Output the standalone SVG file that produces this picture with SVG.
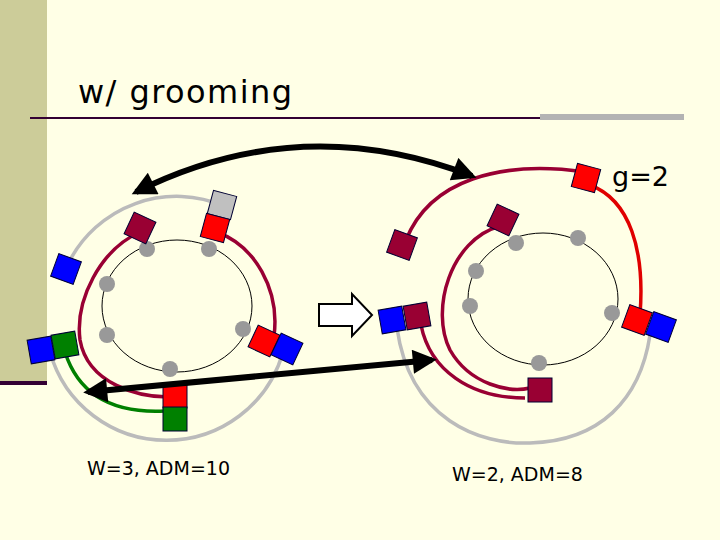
<svg xmlns="http://www.w3.org/2000/svg" width="720" height="540" viewBox="0 0 720 540">
<defs>
<style>
.sq{stroke:#000033;stroke-width:1}
.b{fill:#0000FF}.r{fill:#FF0000}.d{fill:#990033}.g{fill:#008000}.gr{fill:#C0C0C0}
.dot{fill:#999999}
.ar{fill:none;stroke-width:3.5}
.txt{font-family:"DejaVu Sans",sans-serif;fill:#000}
</style>
<marker id="ah" viewBox="0 0 10 10" refX="8" refY="5" markerWidth="4.5" markerHeight="4" orient="auto-start-reverse"><path d="M0,0 L10,5 L0,10 z" fill="#000"/></marker>
</defs>
<rect width="720" height="540" fill="#FFFFE6"/>
<rect x="0" y="0" width="47" height="384" fill="#CCCC99"/>
<rect x="0" y="381" width="47" height="4" fill="#330033"/>
<rect x="30" y="117" width="512" height="2" fill="#330033"/>
<rect x="540" y="114" width="144" height="6" fill="#B3B3B3"/>
<text x="78" y="103" class="txt" font-size="32" textLength="214">w/ grooming</text>

<g id="left-ring">
<ellipse cx="177" cy="306" rx="75" ry="66" fill="none" stroke="#000" stroke-width="1"/>
<g class="dot"><circle cx="147" cy="249" r="8"/><circle cx="209" cy="249" r="8"/><circle cx="107" cy="284" r="8"/><circle cx="107" cy="335" r="8"/><circle cx="243" cy="329" r="8"/><circle cx="170" cy="369" r="8"/></g>
<path class="ar" stroke="#BBBBBB" d="M69 262 A121 121 0 0 1 224 206"/>
<path class="ar" stroke="#BBBBBB" d="M50 352 A121 121 0 0 0 283 352"/>
<path class="ar" stroke="#990033" d="M140 232 C100 250 75 300 80 340 C88 385 140 397 168 397"/>
<path class="ar" stroke="#990033" d="M216 232 C255 245 280 290 274 336"/>
<path class="ar" stroke="#008000" d="M65 352 Q85 415 165 411"/>
<rect class="sq d" x="128" y="216" width="24" height="24" transform="rotate(25 140 228)"/>
<rect class="sq gr" x="210" y="193" width="24" height="24" transform="rotate(15 222 205)"/>
<rect class="sq r" x="203" y="216" width="24" height="24" transform="rotate(15 215 228)"/>
<rect class="sq b" x="54" y="257" width="24" height="24" transform="rotate(20 66 269)"/>
<rect class="sq b" x="29" y="338" width="24" height="24" transform="rotate(-10 41 350)"/>
<rect class="sq g" x="53" y="333" width="24" height="24" transform="rotate(-10 65 345)"/>
<rect class="sq r" x="252" y="329" width="24" height="24" transform="rotate(25 264 341)"/>
<rect class="sq b" x="275" y="337" width="24" height="24" transform="rotate(25 287 349)"/>
<rect class="sq r" x="163" y="385" width="24" height="23"/>
<rect class="sq g" x="163" y="407" width="24" height="24"/>
</g>

<g id="right-ring">
<ellipse cx="543" cy="299" rx="75" ry="66" fill="none" stroke="#000" stroke-width="1"/>
<g class="dot"><circle cx="516" cy="243" r="8"/><circle cx="578" cy="238" r="8"/><circle cx="476" cy="271" r="8"/><circle cx="470" cy="306" r="8"/><circle cx="612" cy="313" r="8"/><circle cx="539" cy="363" r="8"/></g>
<path class="ar" stroke="#BBBBBB" d="M397 328 C410 420 480 445 530 443 C600 441 640 400 650 335"/>
<path class="ar" stroke="#990033" d="M406 240 C430 180 500 160 585 172"/>
<path class="ar" stroke="#E00000" d="M590 185 C630 200 645 250 640 315"/>
<path class="ar" stroke="#990033" d="M500 226 C450 240 430 310 450 350 C470 385 510 393 530 388"/>
<path class="ar" stroke="#990033" d="M421 325 C430 370 470 398 525 398"/>
<rect class="sq r" x="574" y="166" width="24" height="24" transform="rotate(15 586 178)"/>
<rect class="sq d" x="390" y="233" width="24" height="24" transform="rotate(20 402 245)"/>
<rect class="sq d" x="491" y="208" width="24" height="24" transform="rotate(25 503 220)"/>
<rect class="sq b" x="380" y="308" width="24" height="24" transform="rotate(-10 392 320)"/>
<rect class="sq d" x="405" y="304" width="24" height="24" transform="rotate(-10 417 316)"/>
<rect class="sq r" x="625" y="308" width="24" height="24" transform="rotate(20 637 320)"/>
<rect class="sq b" x="649" y="315" width="24" height="24" transform="rotate(20 661 327)"/>
<rect class="sq d" x="528" y="378" width="24" height="24"/>
</g>

<g id="connectors">
<path d="M136 192 Q300 110 472 176" fill="none" stroke="#000" stroke-width="6" marker-start="url(#ah)" marker-end="url(#ah)"/>
<path d="M88 392 L432 360" fill="none" stroke="#000" stroke-width="6" marker-start="url(#ah)" marker-end="url(#ah)"/>
<path d="M319 304 L352 304 L352 294 L372 315 L352 336 L352 326 L319 326 Z" fill="#fff" stroke="#000" stroke-width="2"/>
</g>

<text x="612" y="186" class="txt" font-size="27">g=2</text>
<text x="87" y="475" class="txt" font-size="19">W=3, ADM=10</text>
<text x="452" y="481" class="txt" font-size="19">W=2, ADM=8</text>
</svg>
